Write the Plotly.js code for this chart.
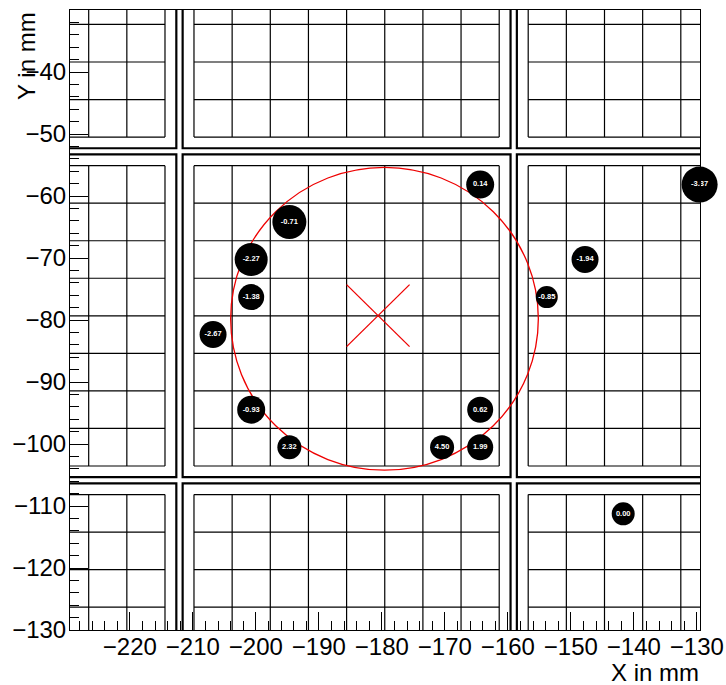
<!DOCTYPE html>
<html>
<head>
<meta charset="utf-8">
<script src="https://cdn.plot.ly/plotly-3.0.1.min.js"></script>
<style>html,body{margin:0;padding:0;background:#fff;}</style>
</head>
<body>
<div id="chart" style="width:726px;height:685px;"></div>
<script>
// Hit data (pad centres in mm) and values
const hitX = [-164.39, -129.56, -194.68, -200.74, -147.75, -200.74, -153.82, -206.79, -200.74, -164.39, -194.68, -170.44, -164.39, -141.69];
const hitY = [-58.15, -58.15, -64.19, -70.24, -70.24, -76.31, -76.31, -82.35, -94.47, -94.47, -100.52, -100.52, -100.52, -111.26];
const hitValue = ["0.14", "-3.37", "-0.71", "-2.27", "-1.94", "-1.38", "-0.85", "-2.67", "-0.93", "0.62", "2.32", "4.50", "1.99", "0.00"];
const hitSize = [28, 36, 34, 33, 27, 26, 22, 27, 28, 26, 24, 24, 26, 23];

// Detector geometry (mm)
const moduleCols = [-1, 0, 1];
const moduleRows = [-1, 0, 1];
const centreModuleX0 = -209.82;
const centreModuleY0 = -103.55;
const padSize = 6.056;
const padsPerSide = 8;
const modulePitch = 53.05;
const frameMargin = 1.8;

// Fitted circle
const circleCentre = [-179.58, -79.8];
const circleRadius = 24.42;
const crossCentre = [-180.6, -79.3];
const crossHalf = 5.0;

const shapes = [];
const gridLine = {color: '#000', width: 1.2};
const frameLine = {color: '#000', width: 2.2};
moduleCols.forEach(c => {
  moduleRows.forEach(r => {
    const x0 = centreModuleX0 + c * modulePitch;
    const y0 = centreModuleY0 + r * modulePitch;
    const side = padSize * padsPerSide;
    for (let i = 0; i <= padsPerSide; i++) {
      shapes.push({type: 'line', xref: 'x', yref: 'y', layer: 'below', x0: x0 + i * padSize, x1: x0 + i * padSize, y0: y0, y1: y0 + side, line: gridLine});
      shapes.push({type: 'line', xref: 'x', yref: 'y', layer: 'below', x0: x0, x1: x0 + side, y0: y0 + i * padSize, y1: y0 + i * padSize, line: gridLine});
    }
    shapes.push({type: 'rect', xref: 'x', yref: 'y', layer: 'below',
      x0: x0 - frameMargin, x1: x0 + side + frameMargin, y0: y0 - frameMargin, y1: y0 + side + frameMargin,
      line: frameLine, fillcolor: 'rgba(0,0,0,0)'});
  });
});
shapes.push({type: 'circle', xref: 'x', yref: 'y', layer: 'below',
  x0: circleCentre[0] - circleRadius, x1: circleCentre[0] + circleRadius,
  y0: circleCentre[1] - circleRadius, y1: circleCentre[1] + circleRadius,
  line: {color: '#ee0000', width: 1.3}});
shapes.push({type: 'line', xref: 'x', yref: 'y', layer: 'below',
  x0: crossCentre[0] - crossHalf, x1: crossCentre[0] + crossHalf,
  y0: crossCentre[1] - crossHalf, y1: crossCentre[1] + crossHalf, line: {color: '#ee0000', width: 1.3}});
shapes.push({type: 'line', xref: 'x', yref: 'y', layer: 'below',
  x0: crossCentre[0] - crossHalf, x1: crossCentre[0] + crossHalf,
  y0: crossCentre[1] + crossHalf, y1: crossCentre[1] - crossHalf, line: {color: '#ee0000', width: 1.3}});

const trace = {
  type: 'scatter', mode: 'markers+text',
  x: hitX, y: hitY, text: hitValue,
  textposition: 'middle center',
  textfont: {family: 'Liberation Sans, Arial, sans-serif', size: 7.5, color: '#fff', weight: 'bold'},
  marker: {size: hitSize, color: '#000', opacity: 1, line: {width: 0}},
  cliponaxis: false, hoverinfo: 'none', showlegend: false
};

const tickFont = {family: 'Liberation Sans, Arial, sans-serif', size: 24, color: '#000'};
const axisCommon = {
  ticks: 'inside', ticklen: 18, tickwidth: 1, tickcolor: '#000',
  minor: {ticks: 'inside', ticklen: 9, dtick: 2, tickwidth: 1, tickcolor: '#000'},
  dtick: 10, showgrid: false, zeroline: false,
  showline: true, mirror: true, linecolor: '#000', linewidth: 1,
  tickfont: tickFont, fixedrange: true
};

const layout = {
  width: 726, height: 685,
  margin: {l: 70, r: 26, t: 10, b: 55, pad: 0},
  paper_bgcolor: '#fff', plot_bgcolor: '#fff',
  xaxis: Object.assign({}, axisCommon, {range: [-229.5, -129.5], tick0: 0, ticklabelstandoff: -5}),
  yaxis: Object.assign({}, axisCommon, {range: [-130, -30], tick0: 0, ticklabelstandoff: -2}),
  shapes: shapes,
  annotations: [
    {text: 'X in mm', xref: 'paper', yref: 'paper', x: 1.0016, y: -0.069, xanchor: 'right', yanchor: 'middle',
     showarrow: false, font: tickFont},
    {text: 'Y in mm', xref: 'paper', yref: 'paper', x: -0.07, y: 1.0, xanchor: 'center', yanchor: 'top',
     textangle: -90, showarrow: false, font: tickFont}
  ]
};

Plotly.newPlot('chart', [trace], layout, {displayModeBar: false, staticPlot: true});
</script>
</body>
</html>
